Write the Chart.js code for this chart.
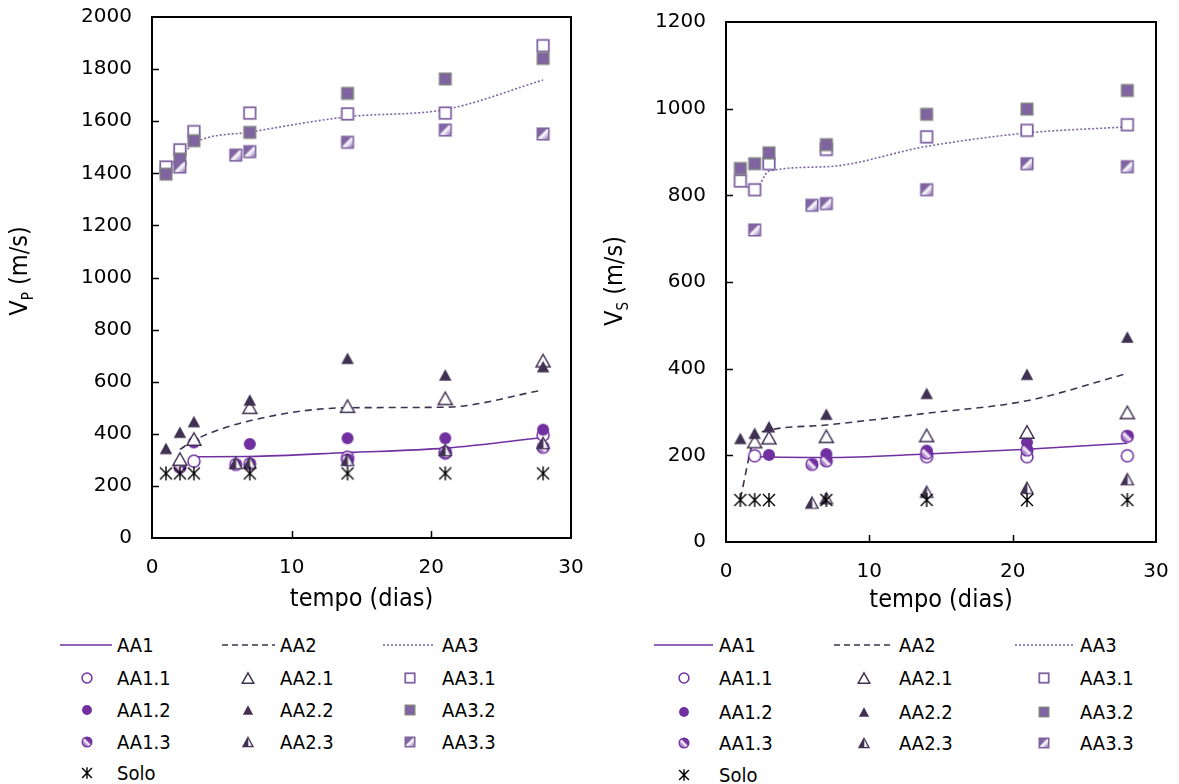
<!DOCTYPE html>
<html><head><meta charset="utf-8">
<script src="https://cdn.jsdelivr.net/npm/chart.js@4.4.1/dist/chart.umd.min.js"></script>
<style>
html,body{margin:0;padding:0;background:#fff;width:1179px;height:784px;overflow:hidden;}
#wrap{position:relative;width:1179px;height:784px;background:#fff;}
canvas.ch{position:absolute;top:0;}
.lg{position:absolute;font-family:"DejaVu Sans Condensed","DejaVu Sans",sans-serif;font-size:20px;line-height:24px;color:#000;white-space:nowrap;}
.lm{position:absolute;}
</style></head><body><div id="wrap">
<canvas id="cvp" class="ch" width="600" height="625" style="left:0"></canvas>
<canvas id="cvs" class="ch" width="599" height="625" style="left:580px"></canvas>
</div>
<script>
// ---------------- DATA: Vp (m/s) ----------------
const xTicks = [0, 10, 20, 30];
const vpYTicksMax = 2000;
const vsYTicksMax = 1200;

const vpAA1Days = [3, 7, 14, 21, 28];
const vpAA1 = [312, 313, 328, 345, 386];
const vpAA2Days = [2, 3, 7, 14, 21, 28];
const vpAA2 = [340, 375, 450, 500, 502, 568];
const vpAA3Days = [1, 2, 3, 7, 14, 21, 28];
const vpAA3 = [1425, 1460, 1515, 1558, 1617, 1645, 1758];

const vpAA11Days = [3, 14, 21, 28];
const vpAA11 = [295, 310, 326, 395];
const vpAA12Days = [3, 7, 14, 21, 28];
const vpAA12 = [367, 361, 383, 383, 416];
const vpAA13Days = [2, 6, 7, 14, 21, 28];
const vpAA13 = [272, 282, 285, 300, 330, 348];

const vpAA21Days = [2, 3, 7, 14, 21, 28];
const vpAA21 = [303, 380, 502, 506, 536, 681];
const vpAA22Days = [1, 2, 3, 7, 14, 21, 28];
const vpAA22 = [344, 406, 447, 530, 690, 626, 658];
const vpAA23Days = [6, 7, 14, 21, 28];
const vpAA23 = [288, 290, 300, 338, 365];

const vpAA31Days = [1, 2, 3, 7, 14, 21, 28];
const vpAA31 = [1424, 1490, 1560, 1631, 1628, 1631, 1890];
const vpAA32Days = [1, 2, 3, 7, 14, 21, 28];
const vpAA32 = [1397, 1455, 1525, 1557, 1707, 1762, 1841];
const vpAA33Days = [2, 6, 7, 14, 21, 28];
const vpAA33 = [1424, 1470, 1483, 1519, 1566, 1551];

const vpSoloDays = [1, 2, 3, 7, 14, 21, 28];
const vpSolo = [248, 248, 248, 248, 248, 248, 248];

// ---------------- DATA: Vs (m/s) ----------------
const vsAA1Days = [2, 3, 7, 14, 21, 28];
const vsAA1 = [197, 196, 195, 203, 214, 228];
const vsAA2Days = [1, 2, 3, 7, 14, 21, 28];
const vsAA2 = [100, 239, 258, 270, 297, 326, 389];
const vsAA3Days = [1, 2, 3, 7, 14, 21, 28];
const vsAA3 = [832, 812, 856, 866, 913, 944, 958];

const vsAA11Days = [2, 14, 21, 28];
const vsAA11 = [199, 197, 197, 199];
const vsAA12Days = [3, 7, 14, 21, 28];
const vsAA12 = [201, 203, 211, 230, 244];
const vsAA13Days = [6, 7, 14, 21, 28];
const vsAA13 = [179, 187, 205, 212, 244];

const vsAA21Days = [2, 3, 7, 14, 21, 28];
const vsAA21 = [232, 241, 244, 246, 254, 299];
const vsAA22Days = [1, 2, 3, 7, 14, 21, 28];
const vsAA22 = [239, 251, 266, 295, 343, 387, 473];
const vsAA23Days = [6, 7, 14, 21, 28];
const vsAA23 = [91, 101, 116, 125, 145];

const vsAA31Days = [1, 2, 3, 7, 14, 21, 28];
const vsAA31 = [833, 813, 873, 906, 935, 950, 963];
const vsAA32Days = [1, 2, 3, 7, 14, 21, 28];
const vsAA32 = [862, 873, 898, 917, 987, 999, 1042];
const vsAA33Days = [2, 6, 7, 14, 21, 28];
const vsAA33 = [720, 777, 781, 813, 873, 866];

const vsSoloDays = [1, 2, 3, 7, 14, 21, 28];
const vsSolo = [97, 97, 97, 97, 97, 97, 97];

// ---------------- STYLE ----------------
const C1 = '#7030A0', C2 = '#403152', C3 = '#8064A2', CG = '#7F7F7F';
const TICKFONT = 'DejaVu Sans';
const TITLEFONT = '"DejaVu Sans Condensed", "DejaVu Sans", sans-serif';

function hatchGrad(g, x0, y0, x1, y1, col, light) {
  const gr = g.createLinearGradient(x0, y0, x1, y1);
  gr.addColorStop(0, col); gr.addColorStop(0.38, col);
  gr.addColorStop(0.52, '#ffffff'); gr.addColorStop(0.68, light);
  gr.addColorStop(1, col);
  return gr;
}

function drawMarker(g, type, cx, cy, k) {
  g.save();
  if (type === 'solo') {
    const a = 6 * k, b = 7 * k;
    g.strokeStyle = '#000'; g.lineWidth = 1.4;
    g.beginPath();
    g.moveTo(cx - a, cy - a); g.lineTo(cx + a, cy + a);
    g.moveTo(cx + a, cy - a); g.lineTo(cx - a, cy + a);
    g.moveTo(cx, cy - b); g.lineTo(cx, cy + b);
    g.stroke();
  } else if (type.indexOf('circ') === 0) {
    const r = 6 * k;
    g.beginPath(); g.arc(cx, cy, r, 0, Math.PI * 2);
    if (type === 'circOpen') { g.fillStyle = '#fff'; g.fill(); g.lineWidth = 1.5; g.strokeStyle = C1; g.stroke(); }
    else if (type === 'circFill') { g.fillStyle = C1; g.fill(); }
    else { g.fillStyle = hatchGrad(g, cx + r, cy - r, cx - r, cy + r, C1, '#b590d0'); g.fill(); g.lineWidth = 1.2; g.strokeStyle = C1; g.stroke(); }
  } else if (type.indexOf('tri') === 0) {
    const open = type === 'triOpen';
    const w = (open ? 14 : 12.5) * k, h = (open ? 12.5 : 11.5) * k;
    g.beginPath(); g.moveTo(cx, cy - h / 2); g.lineTo(cx + w / 2, cy + h / 2); g.lineTo(cx - w / 2, cy + h / 2); g.closePath();
    g.lineJoin = 'miter';
    if (open) { g.fillStyle = '#fff'; g.fill(); g.lineWidth = 1.5; g.strokeStyle = C2; g.stroke(); }
    else if (type === 'triFill') { g.fillStyle = C2; g.fill(); }
    else {
      const gr = g.createLinearGradient(cx - w / 2, cy, cx + w / 2, cy);
      gr.addColorStop(0, C2); gr.addColorStop(0.45, C2); gr.addColorStop(0.6, '#ffffff'); gr.addColorStop(1, '#a89cc0');
      g.fillStyle = gr; g.fill(); g.lineWidth = 1.2; g.strokeStyle = C2; g.stroke();
    }
  } else {
    const s = 11.5 * k;
    if (type === 'sqOpen') { g.fillStyle = '#fff'; g.fillRect(cx - s / 2, cy - s / 2, s, s); g.lineWidth = 1.8; g.strokeStyle = C3; g.strokeRect(cx - s / 2, cy - s / 2, s, s); }
    else if (type === 'sqFill') { g.fillStyle = C3; g.fillRect(cx - s / 2, cy - s / 2, s, s); g.lineWidth = 1.5; g.strokeStyle = CG; g.strokeRect(cx - s / 2, cy - s / 2, s, s); }
    else {
      g.fillStyle = hatchGrad(g, cx - s / 2, cy - s / 2, cx + s / 2, cy + s / 2, C3, '#d8cce8');
      g.fillRect(cx - s / 2, cy - s / 2, s, s); g.lineWidth = 1.6; g.strokeStyle = C3; g.strokeRect(cx - s / 2, cy - s / 2, s, s);
    }
  }
  g.restore();
}

const IMG = {};
['solo', 'circOpen', 'circFill', 'circHatch', 'triOpen', 'triFill', 'triHatch', 'sqOpen', 'sqFill', 'sqHatch'].forEach(t => {
  const c = document.createElement('canvas'); c.width = 20; c.height = 20;
  drawMarker(c.getContext('2d'), t, 10, 10, 1);
  IMG[t] = c;
});

const pts = (d, v) => d.map((x, i) => ({ x: x, y: v[i] }));
function lineDS(label, d, v, color, dash, order) {
  return { label, data: pts(d, v), showLine: true, borderColor: color, borderWidth: 1.6, borderDash: dash,
    pointRadius: 0, pointHoverRadius: 0, cubicInterpolationMode: 'monotone', fill: false, order };
}
function markDS(label, d, v, type, order) {
  return { label, data: pts(d, v), showLine: false, pointStyle: IMG[type], pointRadius: 6, pointHoverRadius: 6, order };
}

const framePlugin = {
  id: 'frame',
  afterDraw(chart, args, o) {
    const ctx = chart.ctx, a = chart.chartArea, sx = chart.scales.x, sy = chart.scales.y;
    ctx.save();
    ctx.strokeStyle = '#000'; ctx.lineWidth = 2;
    ctx.strokeRect(a.left, a.top, a.right - a.left, a.bottom - a.top);
    ctx.lineWidth = 1.5;
    ctx.beginPath();
    sy.ticks.forEach(t => {
      if (t.value <= 0 || t.value >= sy.max) return;
      const y = Math.round(sy.getPixelForValue(t.value)) + 0.5;
      ctx.moveTo(a.left, y); ctx.lineTo(a.left + 7, y);
    });
    sx.ticks.forEach(t => {
      if (t.value <= 0 || t.value >= sx.max) return;
      const x = Math.round(sx.getPixelForValue(t.value)) + 0.5;
      ctx.moveTo(x, a.bottom); ctx.lineTo(x, a.bottom - 7);
    });
    ctx.stroke();
    // x title
    ctx.fillStyle = '#000';
    ctx.font = '25px ' + TITLEFONT;
    ctx.textAlign = 'center'; ctx.textBaseline = 'alphabetic';
    ctx.fillText('tempo (dias)', (a.left + a.right) / 2, o.xTitleY);
    // y title with subscript
    ctx.translate(o.yTitleX, o.yTitleY);
    ctx.rotate(-Math.PI / 2);
    ctx.textAlign = 'left';
    const mainF = '25px ' + TITLEFONT, subF = '15px ' + TITLEFONT;
    ctx.font = mainF; const w1 = ctx.measureText('V').width; const w3 = ctx.measureText(' (m/s)').width;
    ctx.font = subF; const w2 = ctx.measureText(o.sub).width;
    let x = -(w1 + w2 + w3) / 2;
    ctx.font = mainF; ctx.fillText('V', x, 0); x += w1;
    ctx.font = subF; ctx.fillText(o.sub, x, 6); x += w2;
    ctx.font = mainF; ctx.fillText(' (m/s)', x, 0);
    ctx.restore();
  }
};

function makeChart(id, cfg, sets) {
  const S = sets;
  const datasets = [
    lineDS('AA1', S.aa1d, S.aa1, C1, [], 30),
    lineDS('AA2', S.aa2d, S.aa2, C2, [7, 5], 29),
    lineDS('AA3', S.aa3d, S.aa3, C3, [2, 2], 28),
    markDS('AA1.1', S.a11d, S.a11, 'circOpen', 20),
    markDS('AA1.2', S.a12d, S.a12, 'circFill', 19),
    markDS('AA1.3', S.a13d, S.a13, 'circHatch', 18),
    markDS('AA2.1', S.a21d, S.a21, 'triOpen', 17),
    markDS('AA2.2', S.a22d, S.a22, 'triFill', 16),
    markDS('AA2.3', S.a23d, S.a23, 'triHatch', 15),
    markDS('AA3.1', S.a31d, S.a31, 'sqOpen', 14),
    markDS('AA3.2', S.a32d, S.a32, 'sqFill', 13),
    markDS('AA3.3', S.a33d, S.a33, 'sqHatch', 12),
    markDS('Solo', S.sod, S.so, 'solo', 1)
  ];
  const chart = new Chart(document.getElementById(id), {
    type: 'scatter',
    data: { datasets },
    options: {
      responsive: false, animation: false, devicePixelRatio: 1, events: [],
      layout: { autoPadding: false, padding: { left: 0, right: cfg.padR, top: cfg.padT, bottom: 0 } },
      plugins: { legend: { display: false }, tooltip: { enabled: false }, frame: cfg.frame },
      scales: {
        x: {
          type: 'linear', min: xTicks[0], max: xTicks[xTicks.length - 1],
          afterBuildTicks: s => { s.ticks = xTicks.map(v => ({ value: v })); },
          ticks: { font: { family: TICKFONT, size: 20 }, color: '#000', padding: 18, maxRotation: 0, callback: v => String(v) },
          grid: { display: false, drawTicks: false }, border: { display: false },
          afterFit: s => { s.height = cfg.xH; s.paddingLeft = 0; s.paddingRight = 0; }
        },
        y: {
          type: 'linear', min: 0, max: cfg.ymax,
          ticks: { stepSize: 200, font: { family: TICKFONT, size: 20 }, color: '#000', padding: 20, callback: v => String(v) },
          grid: { display: false, drawTicks: false }, border: { display: false },
          afterFit: s => { s.width = cfg.yW; s.paddingTop = 0; s.paddingBottom = 0; }
        }
      }
    },
    plugins: [framePlugin]
  });
  // correct the plot area so that it sits exactly where the reference frame is
  for (let i = 0; i < 3; i++) {
    const ca = chart.chartArea;
    const dTop = cfg.areaTop - ca.top, dRight = ca.right - cfg.areaRight;
    if (Math.abs(dTop) < 0.5 && Math.abs(dRight) < 0.5) break;
    chart.options.layout.padding.top = Math.max(0, chart.options.layout.padding.top + dTop);
    chart.options.layout.padding.right = Math.max(0, chart.options.layout.padding.right + dRight);
    chart.update();
  }
  return chart;
}

makeChart('cvp', { padR: 29, padT: 17, areaTop: 17, areaRight: 571, xH: 87, yW: 152, ymax: vpYTicksMax,
  frame: { xTitleY: 606, yTitleX: 27, yTitleY: 271, sub: 'P' } }, {
  aa1d: vpAA1Days, aa1: vpAA1, aa2d: vpAA2Days, aa2: vpAA2, aa3d: vpAA3Days, aa3: vpAA3,
  a11d: vpAA11Days, a11: vpAA11, a12d: vpAA12Days, a12: vpAA12, a13d: vpAA13Days, a13: vpAA13,
  a21d: vpAA21Days, a21: vpAA21, a22d: vpAA22Days, a22: vpAA22, a23d: vpAA23Days, a23: vpAA23,
  a31d: vpAA31Days, a31: vpAA31, a32d: vpAA32Days, a32: vpAA32, a33d: vpAA33Days, a33: vpAA33,
  sod: vpSoloDays, so: vpSolo });

makeChart('cvs', { padR: 23, padT: 22, areaTop: 22, areaRight: 576, xH: 83, yW: 146, ymax: vsYTicksMax,
  frame: { xTitleY: 607, yTitleX: 42, yTitleY: 281, sub: 'S' } }, {
  aa1d: vsAA1Days, aa1: vsAA1, aa2d: vsAA2Days, aa2: vsAA2, aa3d: vsAA3Days, aa3: vsAA3,
  a11d: vsAA11Days, a11: vsAA11, a12d: vsAA12Days, a12: vsAA12, a13d: vsAA13Days, a13: vsAA13,
  a21d: vsAA21Days, a21: vsAA21, a22d: vsAA22Days, a22: vsAA22, a23d: vsAA23Days, a23: vsAA23,
  a31d: vsAA31Days, a31: vsAA31, a32d: vsAA32Days, a32: vsAA32, a33d: vsAA33Days, a33: vsAA33,
  sod: vsSoloDays, so: vsSolo });

// ---------------- LEGENDS (HTML) ----------------
const legendLines = [['AA1', C1, []], ['AA2', C2, [6, 4]], ['AA3', C3, [2, 2]]];
const legendMarks = [
  [['AA1.1', 'circOpen'], ['AA2.1', 'triOpen'], ['AA3.1', 'sqOpen']],
  [['AA1.2', 'circFill'], ['AA2.2', 'triFill'], ['AA3.2', 'sqFill']],
  [['AA1.3', 'circHatch'], ['AA2.3', 'triHatch'], ['AA3.3', 'sqHatch']]
];
const legendSolo = ['Solo', 'solo'];

function buildLegend(L) {
  const wrap = document.getElementById('wrap');
  const addText = (txt, x, y) => {
    const d = document.createElement('div'); d.className = 'lg'; d.textContent = txt;
    d.style.left = x + 'px'; d.style.top = (y - 12) + 'px'; wrap.appendChild(d);
  };
  legendLines.forEach((it, c) => {
    const w = Math.round(L.lx1[c] - L.lx0[c]);
    const cv = document.createElement('canvas'); cv.width = w; cv.height = 6; cv.className = 'lm';
    cv.style.left = L.lx0[c] + 'px'; cv.style.top = (L.rows[0] - 3) + 'px';
    const g = cv.getContext('2d'); g.strokeStyle = it[1]; g.lineWidth = 1.6; g.setLineDash(it[2]);
    g.beginPath(); g.moveTo(0, 3); g.lineTo(w, 3); g.stroke();
    wrap.appendChild(cv);
    addText(it[0], L.tx[c], L.rows[0]);
  });
  const mk = (type, x, y) => {
    const cv = document.createElement('canvas'); cv.width = 16; cv.height = 16; cv.className = 'lm';
    cv.style.left = (x - 8) + 'px'; cv.style.top = (y - 8) + 'px';
    drawMarker(cv.getContext('2d'), type, 8, 8, 0.82);
    wrap.appendChild(cv);
  };
  legendMarks.forEach((row, r) => {
    row.forEach((it, c) => {
      mk(it[1], L.mx[c], L.rows[r + 1]);
      addText(it[0], L.tx[c], L.rows[r + 1]);
    });
  });
  mk(legendSolo[1], L.mx[0], L.rows[4]);
  addText(legendSolo[0], L.tx[0], L.rows[4]);
}

buildLegend({ lx0: [60, 222, 383], lx1: [112, 275, 435], mx: [87, 248, 410], tx: [117, 280, 442], rows: [645, 678, 710, 742, 773] });
buildLegend({ lx0: [654, 834, 1015], lx1: [713, 893, 1074], mx: [684, 864, 1044], tx: [719, 899, 1080], rows: [645, 678, 712, 743, 775] });
</script>
</body></html>
